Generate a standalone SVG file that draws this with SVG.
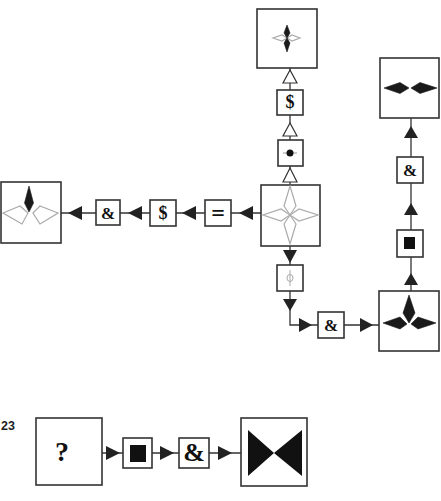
<svg xmlns="http://www.w3.org/2000/svg" width="441" height="501" viewBox="0 0 441 501">
<style>
.box{fill:#fff;stroke:#333;stroke-width:1.6}
.ln{stroke:#333;stroke-width:1.3;fill:none}
.fa{fill:#222}
.oa{fill:#fff;stroke:#333;stroke-width:1.2}
.sym{font-family:"Liberation Serif",serif;font-weight:bold;fill:#111;text-anchor:middle}
.blk{fill:#1a1a1a;stroke:#1a1a1a;stroke-width:0.6}
.gry{fill:#fff;stroke:#aaa;stroke-width:1.2}
</style>
<rect width="441" height="501" fill="#fff"/>
<g id="connectors">
<polyline class="ln" points="290,68 290,185"/>
<polygon class="oa" points="290,70 283,83 297,83"/>
<polygon class="oa" points="290,123 283,136 297,136"/>
<polygon class="oa" points="290,168 283,182 297,182"/>
<polyline class="ln" points="61,213 261,213"/>
<polygon class="fa" points="68,213 82,206 82,220"/>
<polygon class="fa" points="128,213 142,206 142,220"/>
<polygon class="fa" points="182,213 196,206 196,220"/>
<polygon class="fa" points="239,213 253,206 253,220"/>
<polyline class="ln" points="290,246 290,325 379,325"/>
<polygon class="fa" points="283,250 297,250 290,263"/>
<polygon class="fa" points="283,299 297,299 290,311"/>
<polygon class="fa" points="299,318 299,332 312,325"/>
<polygon class="fa" points="360,318 360,332 373,325"/>
<polyline class="ln" points="411,118 411,291"/>
<polygon class="fa" points="411,126 404,138 418,138"/>
<polygon class="fa" points="411,203 404,215 418,215"/>
<polygon class="fa" points="411,273 404,285 418,285"/>
<polyline class="ln" points="102,453 241,453"/>
<polygon class="fa" points="106,446 106,460 120,453"/>
<polygon class="fa" points="160,446 160,460 174,453"/>
<polygon class="fa" points="218,446 218,460 232,453"/>
</g>
<g id="n-top">
<rect class="box" x="257" y="9" width="60" height="59"/>
<polygon class="gry" points="287,38 282,35 273,38 282,41"/>
<polygon class="gry" points="287,38 292,35 300,38 292,41"/>
<polygon class="blk" points="287,38 284,33 287,25 290,33"/>
<polygon class="blk" points="287,38 284,43 287,52 290,43"/>
</g>
<g id="n-dollar1">
<rect class="box" x="277" y="90" width="26" height="25"/>
<text class="sym" x="290" y="108" font-size="18">$</text>
</g>
<g id="n-dot">
<rect class="box" x="278" y="140" width="25" height="26"/>
<line x1="283" y1="153" x2="297" y2="153" stroke="#999" stroke-width="1"/>
<circle cx="290" cy="153" r="3.5" fill="#111"/>
</g>
<g id="n-center">
<rect class="box" x="261" y="185" width="59" height="61"/>
<polygon class="gry" points="290,215 284,206 290,186 296,206"/>
<polygon class="gry" points="290,215 284,224 290,244 296,224"/>
<polygon class="gry" points="290,215 281,209 263,215 281,221"/>
<polygon class="gry" points="290,215 299,209 318,215 299,221"/>
</g>
<g id="n-left">
<rect class="box" x="1" y="182" width="60" height="61"/>
<polygon class="gry" points="28,213 20,206 3,213 22,224"/>
<polygon class="gry" points="33,213 40,206 58,213 40,224"/>
<polygon class="blk" points="29,212 24.5,203 29,186 33.5,203"/>
</g>
<g id="n-amp1">
<rect class="box" x="96" y="200" width="24" height="25"/>
<text class="sym" x="108" y="219" font-size="17">&amp;</text>
</g>
<g id="n-dollar2">
<rect class="box" x="150" y="200" width="26" height="26"/>
<text class="sym" x="163" y="219" font-size="18">$</text>
</g>
<g id="n-eq">
<rect class="box" x="205" y="200" width="26" height="26"/>
<text class="sym" x="218" y="221" font-size="24">=</text>
</g>
<g id="n-phi">
<rect class="box" x="277" y="265" width="26" height="26"/>
<line x1="290" y1="270" x2="290" y2="286" stroke="#aaa" stroke-width="1"/>
<ellipse cx="290" cy="278" rx="3" ry="3.5" fill="none" stroke="#aaa" stroke-width="1"/>
</g>
<g id="n-amp2">
<rect class="box" x="318" y="312" width="26" height="26"/>
<text class="sym" x="331" y="331" font-size="17">&amp;</text>
</g>
<g id="n-right">
<rect class="box" x="379" y="291" width="60" height="60"/>
<polygon class="blk" points="407,324 400,317 383,323 400,329"/>
<polygon class="blk" points="411,324 418,317 436,323 418,329"/>
<polygon class="blk" points="409,323 403,313 409,295 415,313"/>
</g>
<g id="n-square">
<rect class="box" x="397" y="230" width="26" height="27"/>
<rect x="404" y="237" width="11" height="12" fill="#111"/>
</g>
<g id="n-amp3">
<rect class="box" x="397" y="157" width="26" height="26"/>
<text class="sym" x="410" y="176" font-size="17">&amp;</text>
</g>
<g id="n-topright">
<rect class="box" x="380" y="58" width="59" height="60"/>
<polygon class="blk" points="409,88 400,82.5 384,88 400,93.5"/>
<polygon class="blk" points="411,88 420,82.5 437,88 420,93.5"/>
</g>
<g id="label-23">
<text x="1" y="430" font-family="Liberation Sans,Arial,sans-serif" font-weight="bold" font-size="12.5" fill="#222">23</text>
</g>
<g id="n-q">
<rect class="box" x="36" y="418" width="66" height="67"/>
<text class="sym" x="62" y="461" font-size="28">?</text>
</g>
<g id="n-sq2">
<rect class="box" x="123" y="438" width="29" height="30"/>
<rect x="130" y="445" width="16" height="17" fill="#111"/>
</g>
<g id="n-amp4">
<rect class="box" x="179" y="438" width="30" height="30"/>
<text class="sym" x="194" y="461" font-size="26">&amp;</text>
</g>
<g id="n-bow">
<rect class="box" x="241" y="418" width="66" height="68"/>
<polygon fill="#111" points="248,430 274,453 248,476"/>
<polygon fill="#111" points="302,430 274,453 302,476"/>
</g>
</svg>
